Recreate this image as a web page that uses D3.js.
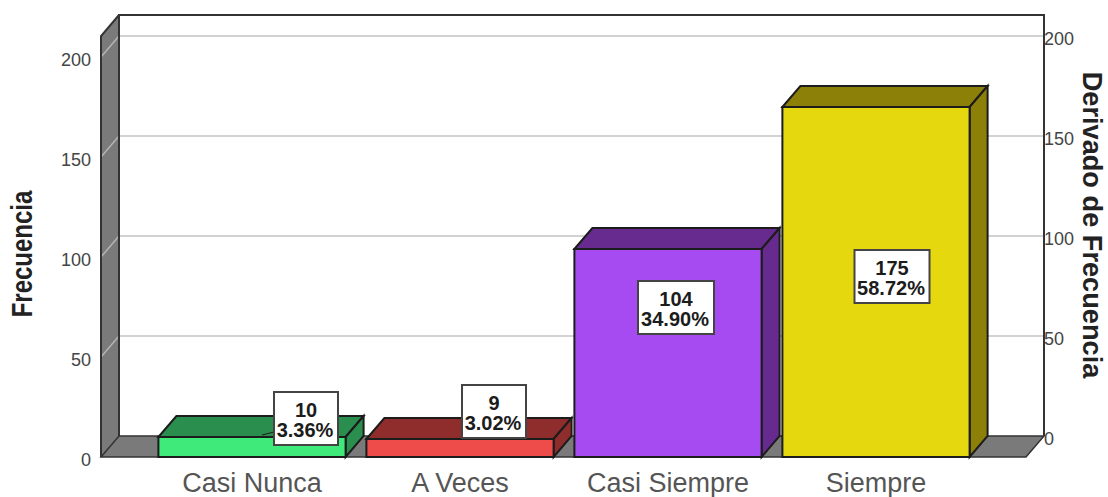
<!DOCTYPE html>
<html>
<head>
<meta charset="utf-8">
<script src="https://cdn.jsdelivr.net/npm/d3@7"></script>
<style>
  html, body { margin: 0; padding: 0; background: #fff; }
  svg { display: block; }
  text { font-family: "Liberation Sans", Arial, sans-serif; }
</style>
</head>
<body>
<svg width="1108" height="497"></svg>
<script>
// Data
const categories = ["Casi Nunca", "A Veces", "Casi Siempre", "Siempre"];
const counts = [10, 9, 104, 175];
const percents = ["3.36%", "3.02%", "34.90%", "58.72%"];
const tickValues = [0, 50, 100, 150, 200];
const frontColors = ["#40ea7a", "#ee4b4b", "#a64bf2", "#e6d80e"];
const sideColors = ["#2a8e4e", "#8f2d2d", "#672b90", "#8c8008"];

// Depth of the 3D box
const depthX = 18;
const depthY = -21;

const svg = d3.select("svg");

// Scales (front plane, the back wall is the same shifted by depth)
const x = d3.scaleBand()
  .domain(categories)
  .range([148, 980])
  .paddingInner(0.1)
  .paddingOuter(0.05);

const y = d3.scaleLinear()
  .domain([0, 200])
  .range([457, 57]);

const left = 101;
const right = 1026;
const wallTop = 15;

const poly = pts => pts.map(p => p.join(",")).join(" ");

// Left wall and floor
svg.append("polygon")
  .attr("points", poly([
    [left, wallTop - depthY],
    [left + depthX, wallTop],
    [left + depthX, y(0) + depthY],
    [left, y(0)]
  ]))
  .attr("fill", "#7a7a7a");

svg.append("polygon")
  .attr("points", poly([
    [left, y(0)],
    [left + depthX, y(0) + depthY],
    [right + depthX, y(0) + depthY],
    [right, y(0)]
  ]))
  .attr("fill", "#7a7a7a")
  .attr("stroke", "#333")
  .attr("stroke-width", 1.5);

// Gridlines: lighter on the back wall, thin where they cross the left wall
const gridValues = tickValues.filter(d => d > 0);

svg.selectAll(".grid-side")
  .data(gridValues)
  .enter().append("line")
  .attr("class", "grid-side")
  .attr("x1", left)
  .attr("y1", d => y(d))
  .attr("x2", left + depthX)
  .attr("y2", d => y(d) + depthY)
  .attr("stroke", "#b4b4b4")
  .attr("stroke-width", 1.5);

svg.selectAll(".grid")
  .data(gridValues)
  .enter().append("line")
  .attr("class", "grid")
  .attr("x1", left + depthX)
  .attr("y1", d => y(d) + depthY)
  .attr("x2", right + depthX)
  .attr("y2", d => y(d) + depthY)
  .attr("stroke", "#d2d2d2")
  .attr("stroke-width", 2);

// Wall outlines
svg.append("path")
  .attr("d", `M${left + depthX},${y(0) + depthY}V${wallTop}H${right + depthX}V${y(0) + depthY}`)
  .attr("fill", "none")
  .attr("stroke", "#333")
  .attr("stroke-width", 2);

svg.append("path")
  .attr("d", `M${left},${y(0)}L${left},${wallTop - depthY}L${left + depthX},${wallTop}`)
  .attr("fill", "none")
  .attr("stroke", "#333")
  .attr("stroke-width", 2);

// Bars
const bars = svg.selectAll(".bar")
  .data(categories)
  .enter().append("g")
  .attr("class", "bar");

const bw = x.bandwidth();
const x0 = d => x(d);
const yv = (d, i) => y(counts[i]);

// top face
bars.append("polygon")
  .attr("points", (d, i) => poly([
    [x0(d), yv(d, i)],
    [x0(d) + depthX, yv(d, i) + depthY],
    [x0(d) + bw + depthX, yv(d, i) + depthY],
    [x0(d) + bw, yv(d, i)]
  ]))
  .attr("fill", (d, i) => sideColors[i])
  .attr("stroke", "#1c1c1c")
  .attr("stroke-width", 2);

// side face
bars.append("polygon")
  .attr("points", (d, i) => poly([
    [x0(d) + bw, yv(d, i)],
    [x0(d) + bw + depthX, yv(d, i) + depthY],
    [x0(d) + bw + depthX, y(0) + depthY],
    [x0(d) + bw, y(0)]
  ]))
  .attr("fill", (d, i) => sideColors[i])
  .attr("stroke", "#1c1c1c")
  .attr("stroke-width", 2);

// front face
bars.append("rect")
  .attr("x", d => x0(d))
  .attr("y", yv)
  .attr("width", bw)
  .attr("height", (d, i) => y(0) - yv(d, i))
  .attr("fill", (d, i) => frontColors[i])
  .attr("stroke", "#1c1c1c")
  .attr("stroke-width", 2);

// Axes
const axisLeft = svg.append("g")
  .attr("transform", `translate(${left - 10},3)`)
  .call(d3.axisLeft(y).tickValues(tickValues).tickSize(0).tickPadding(0));
axisLeft.select(".domain").remove();
axisLeft.selectAll("text")
  .attr("font-size", 18)
  .attr("fill", "#444")
  .style("font-family", "'Liberation Sans', Arial, sans-serif");

const axisRight = svg.append("g")
  .attr("transform", `translate(${right + depthX},${depthY + 3})`)
  .call(d3.axisRight(y).tickValues(tickValues).tickSize(0).tickPadding(0));
axisRight.select(".domain").remove();
axisRight.selectAll("text")
  .attr("font-size", 18)
  .attr("fill", "#444")
  .style("font-family", "'Liberation Sans', Arial, sans-serif");

const axisBottom = svg.append("g")
  .attr("transform", `translate(0,${y(0)})`)
  .call(d3.axisBottom(x).tickSize(0).tickPadding(16));
axisBottom.select(".domain").remove();
axisBottom.selectAll("text")
  .attr("font-size", 27)
  .attr("fill", "#555")
  .style("font-family", "'Liberation Sans', Arial, sans-serif");

// Axis titles
svg.append("text")
  .attr("transform", "translate(32,254) rotate(-90) scale(0.8,1)")
  .attr("text-anchor", "middle")
  .attr("font-size", 30)
  .attr("font-weight", "bold")
  .attr("fill", "#222")
  .text("Frecuencia");

svg.append("text")
  .attr("transform", "translate(1083,225) rotate(90)")
  .attr("text-anchor", "middle")
  .attr("font-size", 27.2)
  .attr("font-weight", "bold")
  .attr("fill", "#222")
  .text("Derivado de Frecuencia");

// Value labels: nudged from the bar middle where the original was dragged
const labelNudgeX = [54, 34, 8, 16];
const labelNudgeY = [-28.5, -36.5, -45.5, -5.5];
const labelW = [64, 64, 76, 75];
const labelH = 53;
const labelX = (d, i) => x(d) + bw / 2 + labelNudgeX[i];
const labelY = (d, i) => (y(0) + y(counts[i])) / 2 + labelNudgeY[i];

// Leader line of the first label
svg.append("line")
  .attr("x1", x(categories[0]) + bw / 2 + 10)
  .attr("y1", y(counts[0]) - 2)
  .attr("x2", labelX(categories[0], 0) - labelW[0] / 2)
  .attr("y2", y(counts[0]) - 5)
  .attr("stroke", "#1c1c1c");

const labels = svg.selectAll(".label")
  .data(categories)
  .enter().append("g")
  .attr("class", "label")
  .attr("transform", (d, i) => `translate(${labelX(d, i)},${labelY(d, i)})`);

labels.append("rect")
  .attr("x", (d, i) => -labelW[i] / 2)
  .attr("y", -labelH / 2)
  .attr("width", (d, i) => labelW[i])
  .attr("height", labelH)
  .attr("fill", "#fff")
  .attr("stroke", "#444")
  .attr("stroke-width", 2);

labels.append("text")
  .attr("text-anchor", "middle")
  .attr("y", -1.5)
  .attr("font-size", 20)
  .attr("font-weight", "bold")
  .attr("fill", "#1c1c1c")
  .text((d, i) => counts[i]);

labels.append("text")
  .attr("text-anchor", "middle")
  .attr("x", -1)
  .attr("y", 18.5)
  .attr("font-size", 20)
  .attr("font-weight", "bold")
  .attr("fill", "#1c1c1c")
  .text((d, i) => percents[i]);
</script>
</body>
</html>
